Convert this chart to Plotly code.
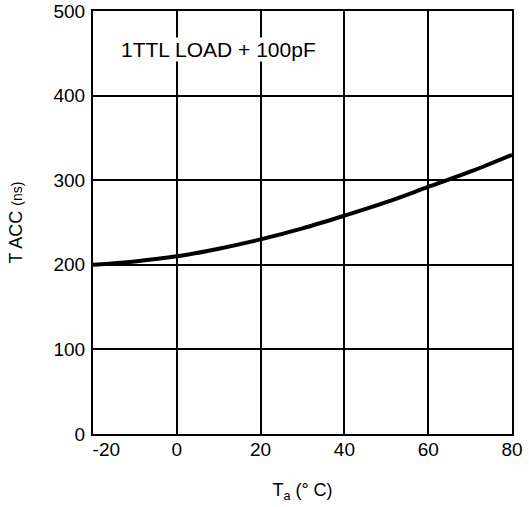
import plotly.graph_objects as go

temp_c = [-20, -10, 0, 10, 20, 30, 40, 50, 60, 70, 80]
tacc_ns = [200, 204, 210, 219, 230, 243, 258, 274, 292, 310, 330]

x_ticks = [-20, 0, 20, 40, 60, 80]
x_tick_text = ["\u2003\u2009\u2009-20", "0", "20", "40", "60", "80"]
y_ticks = [0, 100, 200, 300, 400, 500]

font_family = "Liberation Sans, Arial, sans-serif"

fig = go.Figure()
fig.add_trace(go.Scatter(
    x=temp_c, y=tacc_ns, mode="lines",
    line=dict(color="black", width=4, shape="spline"),
    showlegend=False, hoverinfo="skip",
))

fig.add_annotation(
    x=-13.6, y=454, xref="x", yref="y", text="1TTL LOAD + 100pF",
    showarrow=False, xanchor="left", yanchor="middle",
    font=dict(family=font_family, size=21, color="black"),
    bgcolor="white", borderpad=0,
)

axis_common = dict(
    showgrid=True, gridcolor="black", gridwidth=1.5,
    showline=True, linecolor="black", linewidth=2, mirror=True,
    zeroline=False, ticks="", automargin=False,
    tickfont=dict(family=font_family, size=19, color="black"),
)

fig.update_xaxes(
    range=[-20, 80], tickvals=x_ticks, ticktext=x_tick_text,
    title=dict(text="T<sub>a</sub> (\u00b0 C)", font=dict(family=font_family, size=18, color="black"), standoff=25),
    ticklabelstandoff=-3,
    **axis_common,
)
fig.update_yaxes(
    range=[0, 500], tickvals=y_ticks,
    title=dict(text="T ACC <span style='font-size:14px'>(ns)</span>", font=dict(family=font_family, size=18, color="black"), standoff=26),
    ticklabelstandoff=2,
    **axis_common,
)

fig.update_layout(
    width=529, height=507,
    margin=dict(l=93, r=17, t=11, b=73),
    plot_bgcolor="white", paper_bgcolor="white",
)

fig.write_html("out.html", config={"displayModeBar": False},
               post_script="document.body.style.margin='0';")
